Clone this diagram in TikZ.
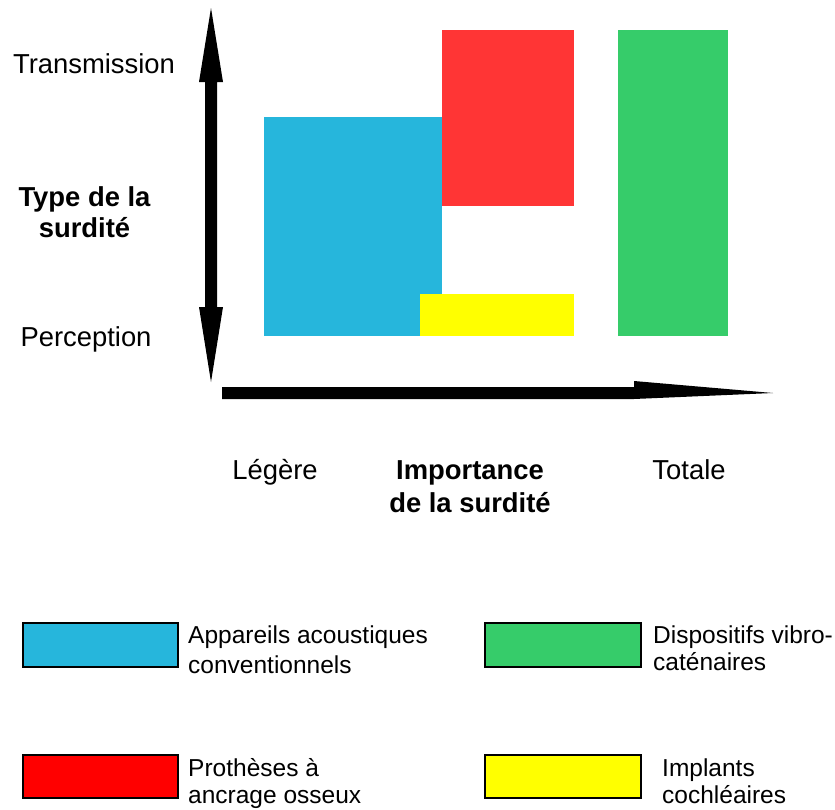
\documentclass[tikz,border=0pt]{standalone}
\usepackage{fontspec}
\setmainfont{Liberation Sans}
\definecolor{cblue}{HTML}{26B6DC}
\definecolor{cred}{HTML}{FF3535}
\definecolor{credleg}{HTML}{FF0000}
\definecolor{cgreen}{HTML}{36CC6A}
\definecolor{cyellow}{HTML}{FFFF00}
\tikzset{
  biglbl/.style={font=\fontsize{27.4}{31}\selectfont, inner sep=0pt, align=center},
  boldlbl/.style={font=\fontsize{27.4}{31}\selectfont\bfseries, inner sep=0pt, align=center},
  leglbl/.style={font=\fontsize{24.5}{30}\selectfont, inner sep=0pt, align=left, anchor=base west},
  legbox/.style={draw=black, line width=1.2pt},
  axisarrow/.style={fill=black}
}
\begin{document}
\begin{tikzpicture}[x=1pt,y=-1pt]
\useasboundingbox (0,0) rectangle (835,809);
% bars
\fill[cblue] (264,117) rectangle (442,336);
\fill[cred] (442,30) rectangle (574,206);
\fill[cyellow] (420,294) rectangle (574,336);
\fill[cgreen] (618,30) rectangle (728,336);
% vertical axis arrow (double headed)
\fill[axisarrow] (211,8) -- (223,82) -- (217,82) -- (217,307) -- (223,307) -- (211,382)
  -- (199,307) -- (205,307) -- (205,82) -- (199,82) -- cycle;
% horizontal axis arrow
\fill[axisarrow] (222,387) -- (634,387) -- (634,381) -- (773,393) -- (634,399) -- (222,399) -- cycle;
% axis labels
\node[biglbl, anchor=base] (trans) at (94,73) {Transmission};
\node[boldlbl, anchor=base] (type) at (84.5,237) {Type de la\\surdité};
\node[biglbl, anchor=base] (perc) at (86,346) {Perception};
\node[biglbl, anchor=base] (leg) at (275,479) {Légère};
\node[boldlbl, anchor=base, font=\fontsize{27.4}{33}\selectfont\bfseries] (imp) at (470,512) {Importance\\de la surdité};
\node[biglbl, anchor=base] (tot) at (689,479) {Totale};
% legend
\fill[legbox, fill=cblue] (23,623) rectangle (178,667);
\node[leglbl] (lblue) at (188,673) {Appareils acoustiques\\conventionnels};
\fill[legbox, fill=credleg] (23,755) rectangle (178,798);
\node[leglbl, font=\fontsize{24.5}{27}\selectfont] (lred) at (188,803) {Prothèses à\\ancrage osseux};
\fill[legbox, fill=cgreen] (485,623) rectangle (641,667);
\node[leglbl, font=\fontsize{24.5}{26.5}\selectfont] (lgreen) at (653,670) {Dispositifs vibro-\\caténaires};
\fill[legbox, fill=cyellow] (485,755) rectangle (641,798);
\node[leglbl, font=\fontsize{24.5}{27}\selectfont] (lyellow) at (662,803) {Implants\\cochléaires};
\end{tikzpicture}
\end{document}
